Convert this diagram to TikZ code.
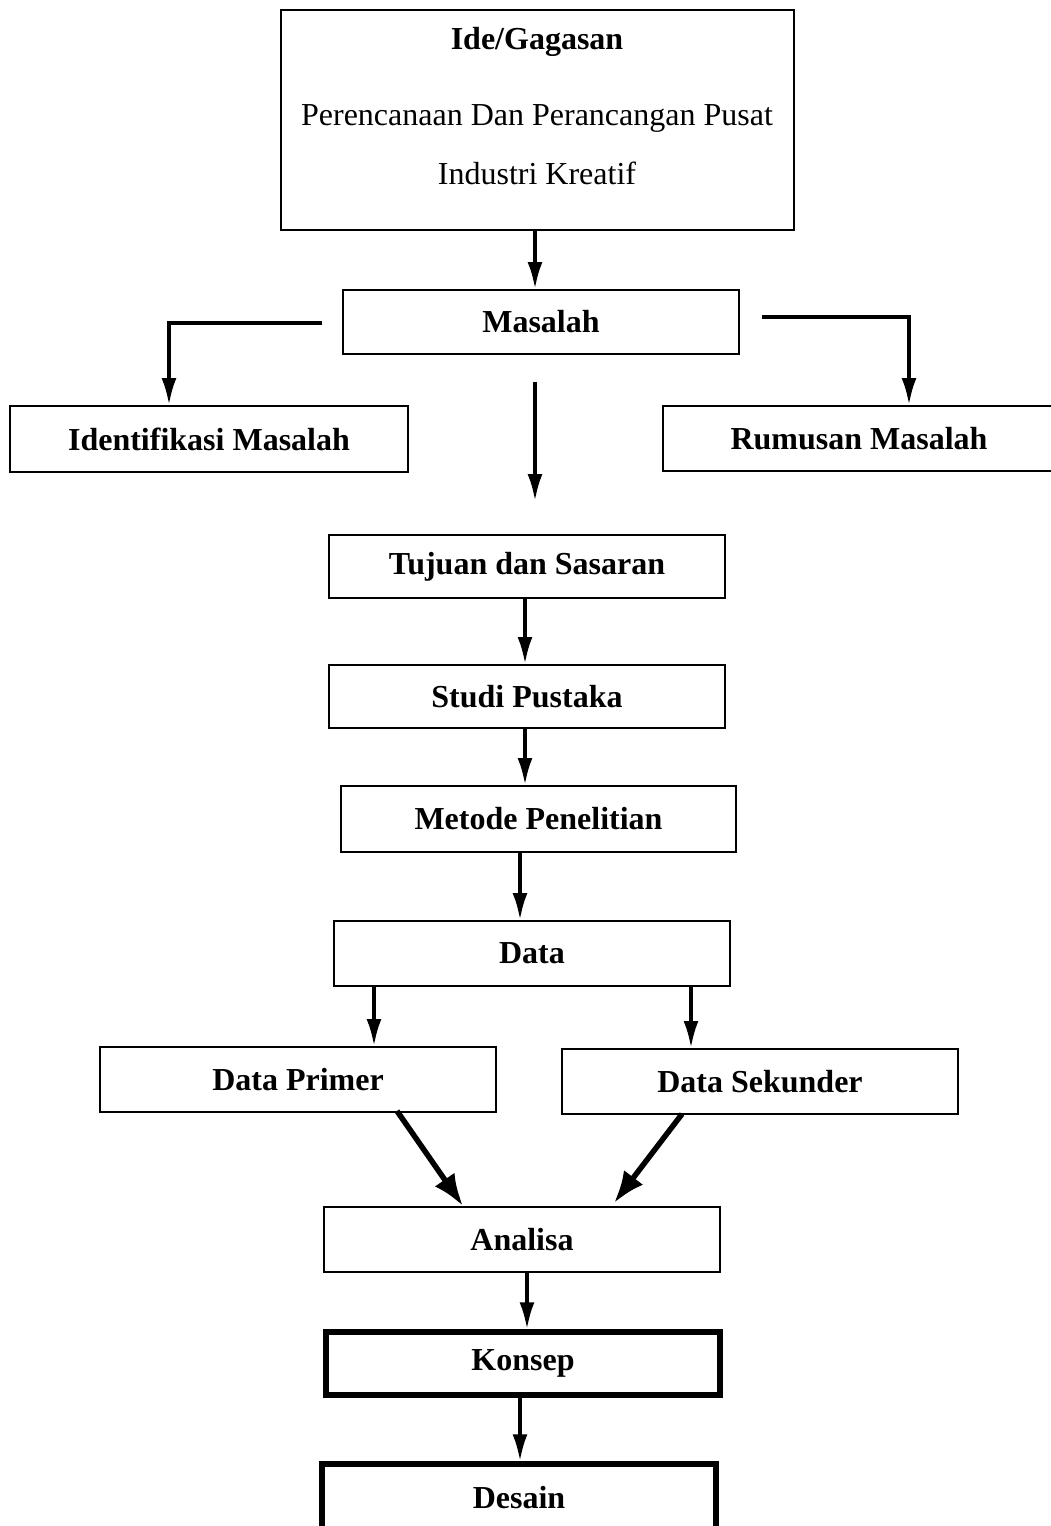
\documentclass[tikz,border=0pt]{standalone}
\usepackage{fontspec}
\setmainfont{Liberation Serif}
\usetikzlibrary{arrows.meta}
\begin{document}
\begin{tikzpicture}[x=1pt,y=-1pt,
  box/.style={draw,line width=2pt,minimum height=64pt,inner sep=0pt,font=\fontsize{32}{34}\selectfont\bfseries},
  thickbox/.style={box,line width=5.5pt},
  arr/.style={line width=3.5pt,-{Latex[length=27pt,width=15pt]}},
  bigarr/.style={line width=5.5pt,-{Latex[length=32pt,width=24pt]}},
  txt/.style={inner sep=0pt,font=\fontsize{32}{34}\selectfont}]
\useasboundingbox[fill=white] (0,0) rectangle (1051,1526);
% top box
\node[draw,line width=2pt,minimum width=513pt,minimum height=220pt,inner sep=0pt] (ide) at (537.5,120) {};
\node[txt,font=\fontsize{32}{34}\selectfont\bfseries] (t1) at (537,42) {Ide/Gagasan};
\node[txt] (t2) at (537,118) {Perencanaan Dan Perancangan Pusat};
\node[txt] (t3) at (537,173) {Industri Kreatif};
\node[box,minimum width=396pt] (mas) at (541,322) {Masalah};
\node[box,minimum width=398pt,minimum height=66pt] (ident) at (209,439) {Identifikasi Masalah};
\node[box,minimum width=392pt,minimum height=65pt] (rum) at (859,438.5) {Rumusan Masalah};
\node[box,minimum width=396pt,minimum height=63pt] (tuj) at (527,566.5) {Tujuan dan Sasaran};
\node[box,minimum width=396pt,minimum height=63pt] (stu) at (527,696.5) {Studi Pustaka};
\node[box,minimum width=395pt,minimum height=66pt] (met) at (538.5,819) {Metode Penelitian};
\node[box,minimum width=396pt,minimum height=65pt] (dat) at (532,953.5) {Data};
\node[box,minimum width=396pt,minimum height=65pt] (pri) at (298,1079.5) {Data Primer};
\node[box,minimum width=396pt,minimum height=65pt] (sek) at (760,1081.5) {Data Sekunder};
\node[box,minimum width=396pt,minimum height=65pt] (ana) at (522,1239.5) {Analisa};
\node[thickbox,minimum width=394pt,minimum height=63pt] (kon) at (523,1363.5) {Konsep};
\node[thickbox,minimum width=394pt,minimum height=68pt] (des) at (519,1498) {Desain};
% connectors
\draw[arr] (535,0 |- ide.south) -- (535,0 |- mas.north);
\coordinate (ml) at (322,323);
\coordinate (mr) at (762,317);
\draw[arr] (ml) -- (169,323) -- (169,0 |- ident.north);
\draw[arr] (mr) -- (909,317) -- (909,0 |- rum.north);
\coordinate (ms) at (535,382);
\coordinate (me) at (535,501);
\draw[arr] (ms) -- (me);
\draw[arr] (525,0 |- tuj.south) -- (525,0 |- stu.north);
\draw[arr] (525,0 |- stu.south) -- (525,0 |- met.north);
\draw[arr] (520,0 |- met.south) -- (520,0 |- dat.north);
\draw[arr] (374,0 |- dat.south) -- (374,0 |- pri.north);
\draw[arr] (691,0 |- dat.south) -- (691,0 |- sek.north);
\draw[bigarr] (397,1111) -- (463,1206);
\draw[bigarr] (682,1114) -- (614,1203);
\draw[arr] (527,0 |- ana.south) -- (527,0 |- kon.north);
\draw[arr] (520,0 |- kon.south) -- (520,0 |- des.north);
\end{tikzpicture}
\end{document}
